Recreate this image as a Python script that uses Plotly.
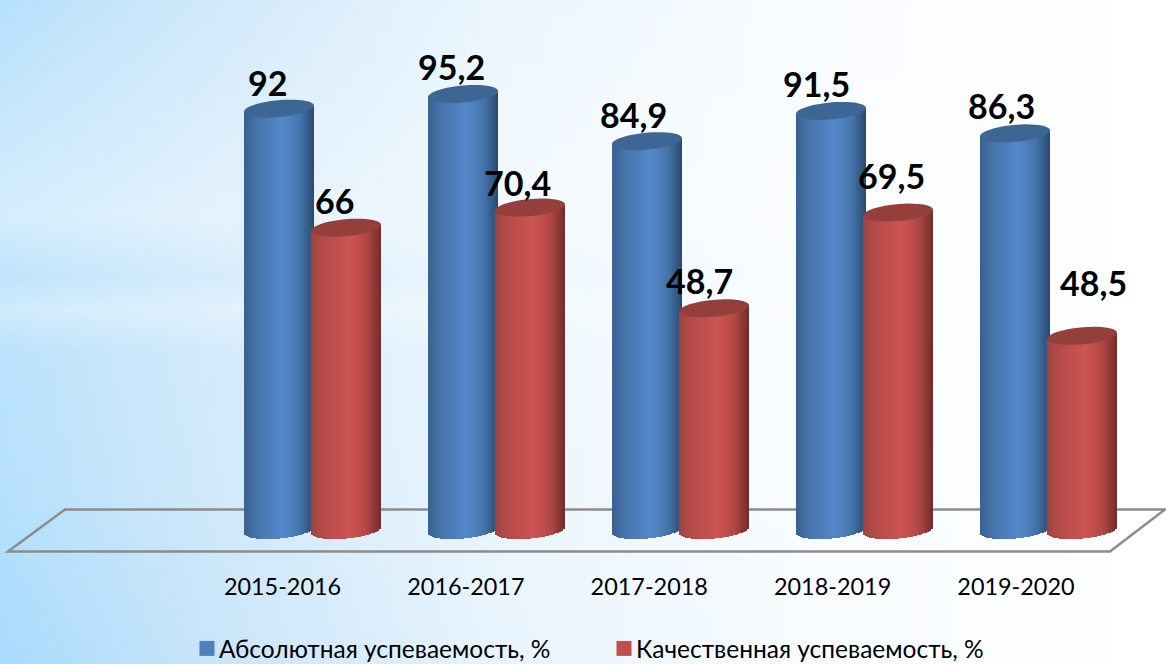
import base64
import math
import plotly.graph_objects as go

# ---- data ----
categories = ["2015-2016", "2016-2017", "2017-2018", "2018-2019", "2019-2020"]
abs_name = "Абсолютная успеваемость, %"
qual_name = "Качественная успеваемость, %"
abs_labels = ["92", "95,2", "84,9", "91,5", "86,3"]
qual_labels = ["66", "70,4", "48,7", "69,5", "48,5"]
# heights of the drawn cylinders (the last red cylinder is drawn lower than its label says)
abs_values = [92, 95.2, 84.9, 91.5, 86.6]
qual_values = [66, 70.4, 48.4, 69.3, 42.4]

# ---- geometry helpers ----
W, H = 1166, 664
AX_BOTTOM = 571
PX_PER_UNIT = 4.58
ZERO_PX = 530.0
GROUP0_PX, GROUP_STEP = 312.5, 184.0


def x_of(px):
    return (px - GROUP0_PX) / GROUP_STEP


def y_of(py):
    return (ZERO_PX - py) / PX_PER_UNIT


CYL_W = 70 / GROUP_STEP
CENTER = 33.5 / GROUP_STEP
SEMI_B = 8.5 / PX_PER_UNIT
TILT = 3.0 / PX_PER_UNIT
N = 35


def lerp(a, b, t):
    return tuple(a[i] + (b[i] - a[i]) * t for i in range(3))


def ramp(stops, t):
    for (t0, c0), (t1, c1) in zip(stops, stops[1:]):
        if t <= t1:
            return lerp(c0, c1, (t - t0) / (t1 - t0))
    return stops[-1][1]


def rgb(c):
    return "rgb(%d,%d,%d)" % tuple(round(v) for v in c)


BLUE = [(0, (58, 98, 146)), (0.2, (72, 117, 173)), (0.55, (84, 136, 203)), (0.8, (70, 117, 172)), (1, (42, 76, 116))]
RED = [(0, (160, 68, 66)), (0.2, (184, 76, 74)), (0.55, (205, 84, 81)), (0.8, (178, 72, 70)), (1, (118, 45, 45))]

fig = go.Figure()
xs = list(range(len(categories)))


def add_cylinders(values, center, stops, cap, name):
    for k in range(N):
        u = -1 + (2 * k + 1) / N
        left = center - CYL_W / 2 + CYL_W * k / N
        low = u * TILT - SEMI_B * math.sqrt(max(0, 1 - u * u))
        top = u * TILT
        fig.add_trace(go.Bar(
            x=xs,
            y=[v + top - low for v in values],
            base=[low] * len(values),
            width=CYL_W / N * 1.15,
            offset=left,
            marker=dict(color=rgb(ramp(stops, k / (N - 1))), line=dict(width=0)),
            showlegend=False,
            hoverinfo="skip",
            name=name,
        ))
    for i, v in enumerate(values):
        pts = []
        for d in range(0, 360, 8):
            a = math.radians(d)
            u = math.cos(a)
            px_x = i + center + u * CYL_W / 2
            px_y = v + u * TILT + math.sin(a) * SEMI_B
            pts.append("%.4f,%.4f" % (px_x, px_y))
        fig.add_shape(type="path", path="M" + " L".join(pts) + " Z", xref="x", yref="y",
                      fillcolor=cap, line=dict(width=0), layer="above")


add_cylinders(abs_values, -CENTER, BLUE, "#3d6695", abs_name)
add_cylinders(qual_values, CENTER, RED, "#953f3c", qual_name)

# legend proxies
fig.add_trace(go.Scatter(x=[None], y=[None], mode="markers", name=abs_name,
                         marker=dict(symbol="square", size=15, color="#4f81bd")))
fig.add_trace(go.Scatter(x=[None], y=[None], mode="markers", name=qual_name,
                         marker=dict(symbol="square", size=15, color="#c0504d")))

# value labels, nudged to where the picture has them (px)
abs_shift = [(-12, 26), (-12, 27), (-14, 27), (-15, 27), (-14, 28)]
qual_shift = [(-12, 27), (-13, 25), (-14.5, 28), (-7, 37), (11, 53)]
for values, labels, shifts, center in ((abs_values, abs_labels, abs_shift, -CENTER),
                                       (qual_values, qual_labels, qual_shift, CENTER)):
    for i, (v, t, s) in enumerate(zip(values, labels, shifts)):
        fig.add_annotation(x=i + center, y=v, text=t, showarrow=False, xshift=s[0], yshift=s[1],
                           font=dict(family="Lato, 'Noto Sans'", size=34, color="#000000", weight="bold"))

# floor
floor = [(8, 551.5), (65, 509.5), (1165, 509.5), (1110, 551.5)]
fig.add_shape(type="path", layer="below", xref="x", yref="y",
              path="M" + " L".join("%.4f,%.4f" % (x_of(a), y_of(b)) for a, b in floor) + " Z",
              fillcolor="rgba(255,255,255,0)", line=dict(color="#8c8c8c", width=2.5))

# page background
svg = f"""<svg xmlns='http://www.w3.org/2000/svg' width='{W}' height='{H}'>
<defs>
<linearGradient id='h' x1='0' y1='0' x2='1' y2='0'>
<stop offset='0' stop-color='#a9dbfc'/><stop offset='0.2' stop-color='#cbe6fa'/>
<stop offset='0.43' stop-color='#e8f4fd'/><stop offset='0.7' stop-color='#f8fcff'/>
<stop offset='1' stop-color='#ffffff'/></linearGradient>
<linearGradient id='v' x1='0' y1='0' x2='0' y2='1'>
<stop offset='0' stop-color='#ffffff' stop-opacity='0.15'/>
<stop offset='0.327' stop-color='#ffffff' stop-opacity='0.5'/>
<stop offset='0.417' stop-color='#ffffff' stop-opacity='0.25'/>
<stop offset='0.467' stop-color='#ffffff' stop-opacity='0.45'/>
<stop offset='0.53' stop-color='#ffffff' stop-opacity='0.2'/>
<stop offset='0.75' stop-color='#ffffff' stop-opacity='0.15'/>
<stop offset='1' stop-color='#ffffff' stop-opacity='0'/></linearGradient>
</defs>
<rect width='{W}' height='{H}' fill='url(#h)'/>
<rect width='{W}' height='{H}' fill='url(#v)'/>
</svg>"""
fig.add_layout_image(source="data:image/svg+xml;base64," + base64.b64encode(svg.encode()).decode(),
                     xref="paper", yref="paper", x=0, y=1, sizex=1, sizey=1, sizing="stretch",
                     xanchor="left", yanchor="top", layer="below")

fig.update_layout(
    width=W, height=H, autosize=False,
    margin=dict(l=0, r=0, t=0, b=0, pad=0, autoexpand=False),
    paper_bgcolor="#ffffff", plot_bgcolor="rgba(0,0,0,0)",
    barmode="overlay", bargap=0,
    font=dict(family="Lato, 'Noto Sans'", color="#000000", size=23),
    xaxis=dict(range=[x_of(0), x_of(W)], tickvals=[i - 0.163 - i * 0.0035 for i in xs], ticktext=categories,
               showgrid=False, zeroline=False, showline=False, ticks="", tickfont=dict(size=23.4)),
    yaxis=dict(range=[y_of(AX_BOTTOM), y_of(0)], domain=[(H - AX_BOTTOM) / H, 1], visible=False),
    legend=dict(orientation="h", x=179 / W, xanchor="left", y=1 - 626 / H, yanchor="top",
                bgcolor="rgba(0,0,0,0)", font=dict(size=24.5), entrywidth=372, entrywidthmode="pixels",
                itemsizing="trace"),
)
fig.write_html("out.html", config={"displayModeBar": False}, post_script="""
document.documentElement.style.margin='0';
document.body.style.margin='0';
var gd=document.querySelector('.plotly-graph-div');
gd.style.position='fixed';gd.style.left='0';gd.style.top='0';
document.querySelectorAll('.legendpoints').forEach(function(e){e.setAttribute('transform','translate(8,0)');});
""")
